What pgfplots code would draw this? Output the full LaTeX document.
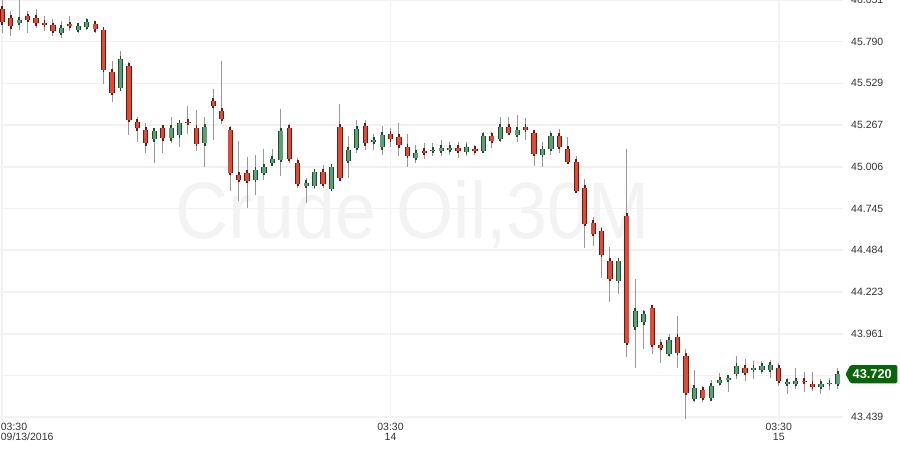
\documentclass[border=0pt]{standalone}
\usepackage{fontspec}
\setmainfont{Liberation Sans}
\usepackage{pgfplots}
\usepackage{pgfplotstable}
\pgfplotsset{compat=1.18}

\definecolor{wick}{HTML}{999999}
\definecolor{redfill}{HTML}{DD4B39}
\definecolor{redline}{HTML}{6B1A12}
\definecolor{greenfill}{HTML}{5E9F77}
\definecolor{greenline}{HTML}{1E4D2B}
\definecolor{gridc}{HTML}{F2F2F2}
\definecolor{wm}{HTML}{F3F3F3}
\definecolor{lab}{HTML}{333333}
\definecolor{tagc}{HTML}{0A640A}

% 30 min bars, x = bar number (46 bars per session)
\pgfplotstableread{
i open high low close
0 45.997 46.060 45.844 45.913
1 45.941 45.980 45.825 45.888
3 45.949 45.980 45.844 45.928
4 45.941 45.993 45.878 45.907
5 45.909 45.949 45.857 45.897
6 45.892 45.930 45.825 45.859
8 45.899 45.949 45.857 45.891
11 45.903 45.916 45.844 45.869
12 45.866 45.878 45.527 45.615
13 45.603 45.667 45.412 45.471
15 45.640 45.661 45.206 45.302
16 45.289 45.316 45.162 45.249
17 45.239 45.283 45.093 45.155
19 45.252 45.264 45.093 45.187
22 45.289 45.385 45.212 45.283
23 45.252 45.360 45.105 45.152
25 45.421 45.492 45.174 45.390
26 45.358 45.667 45.274 45.308
27 45.239 45.260 44.853 44.970
28 44.958 45.166 44.792 44.926
29 44.970 45.066 44.748 44.920
34 45.252 45.277 45.033 45.058
35 45.033 45.064 44.876 44.901
38 44.976 45.020 44.876 44.901
40 45.258 45.398 44.926 44.936
43 45.264 45.298 45.112 45.155
46 45.214 45.247 45.130 45.180
47 45.196 45.279 45.074 45.143
48 45.133 45.214 45.005 45.075
50 45.108 45.158 45.055 45.094
54 45.127 45.162 45.062 45.108
56 45.120 45.145 45.080 45.108
58 45.202 45.227 45.124 45.171
60 45.258 45.316 45.208 45.221
62 45.258 45.310 45.174 45.239
63 45.221 45.233 45.011 45.089
66 45.202 45.246 45.093 45.133
67 45.120 45.196 45.027 45.039
68 45.039 45.077 44.842 44.856
69 44.876 44.933 44.498 44.650
70 44.657 44.695 44.511 44.587
71 44.607 44.628 44.310 44.457
72 44.419 44.502 44.160 44.306
74 44.701 45.116 43.816 43.906
77 44.125 44.144 43.834 43.892
78 43.893 43.931 43.778 43.873
80 43.943 44.072 43.745 43.842
81 43.824 43.868 43.430 43.591
83 43.611 43.636 43.534 43.560
88 43.749 43.801 43.665 43.718
92 43.749 43.780 43.636 43.668
95 43.668 43.724 43.596 43.661
96 43.649 43.724 43.603 43.630
}\downbars

\pgfplotstableread{
i open high low close
2 45.909 46.055 45.861 45.928
7 45.847 45.918 45.813 45.878
9 45.866 45.909 45.844 45.891
10 45.884 45.941 45.863 45.916
14 45.500 45.730 45.487 45.684
18 45.180 45.247 45.030 45.233
20 45.187 45.316 45.155 45.252
21 45.206 45.298 45.130 45.283
24 45.155 45.316 45.005 45.258
30 44.926 45.078 44.830 44.989
31 44.970 45.116 44.926 45.008
32 45.030 45.116 45.011 45.058
33 45.052 45.367 44.949 45.233
36 44.889 44.939 44.780 44.908
37 44.889 44.995 44.870 44.976
39 44.870 45.020 44.864 45.008
41 45.045 45.197 44.939 45.114
42 45.127 45.298 45.093 45.246
44 45.164 45.214 45.112 45.177
45 45.130 45.264 45.080 45.208
49 45.063 45.145 45.030 45.095
51 45.108 45.158 45.074 45.114
52 45.108 45.177 45.074 45.127
53 45.114 45.164 45.080 45.127
55 45.100 45.164 45.074 45.133
57 45.108 45.227 45.094 45.202
59 45.183 45.316 45.160 45.258
61 45.208 45.329 45.162 45.239
64 45.083 45.160 45.005 45.120
65 45.120 45.233 45.083 45.202
73 44.294 44.432 44.210 44.419
75 44.003 44.302 43.747 44.106
76 44.035 44.112 43.866 44.087
79 43.837 43.962 43.816 43.924
82 43.554 43.737 43.534 43.624
84 43.559 43.670 43.548 43.636
85 43.655 43.718 43.634 43.674
86 43.674 43.699 43.596 43.687
87 43.712 43.820 43.679 43.762
89 43.737 43.789 43.678 43.749
90 43.737 43.789 43.712 43.762
91 43.737 43.795 43.687 43.768
93 43.649 43.687 43.586 43.661
94 43.649 43.749 43.618 43.668
97 43.630 43.680 43.586 43.649
98 43.649 43.687 43.609 43.653
99 43.649 43.749 43.618 43.712
}\upbars

\pgfplotsset{
  wicks/.style={draw=none, mark=none,
    error bars/y dir=plus, error bars/y explicit, error bars/error mark=none,
    error bars/error bar style={draw=wick, line width=1pt}},
  body edge/.style={draw=none, mark=none,
    error bars/y dir=both, error bars/y explicit, error bars/error mark=-,
    error bars/error mark options={draw=#1, line width=1.8pt, mark size=2.6pt},
    error bars/error bar style={draw=#1, line width=5.2pt}},
  body fill/.style={draw=none, mark=none,
    error bars/y dir=both, error bars/y explicit, error bars/error mark=none,
    error bars/error bar style={draw=#1, line width=3.4pt}},
}

\begin{document}
\begin{tikzpicture}
\node[anchor=base, text=wm, inner sep=0pt,
  font=\fontsize{80}{80}\selectfont] at (413pt,182pt)
  {\scalebox{0.92}[1]{Crude Oil,30M}};

\begin{axis}[
  at={(0pt,0pt)}, anchor=south west,
  scale only axis, width=843pt, height=420pt,
  xmin=-0.2725, xmax=99.61, ymin=43.421, ymax=46.051,
  axis line style={draw=none},
  tick style={draw=none},
  ytick={43.439,43.700,43.961,44.223,44.484,44.745,45.006,45.267,45.529,45.790,46.051},
  yticklabels={43.439,,43.961,44.223,44.484,44.745,45.006,45.267,45.529,45.790,46.051},
  yticklabel pos=right,
  yticklabel style={anchor=west, inner sep=0pt, xshift=8pt,
    font=\fontsize{10.5}{12}\selectfont, text=lab},
  xtick={46,92},
  xticklabels={{03:30\\14},{03:30\\15}},
  xticklabel style={anchor=north, align=center, inner sep=0pt, yshift=-2.7pt,
    font=\fontsize{10.5}{10.7}\selectfont, text=lab},
  extra x ticks={0},
  extra x tick labels={{03:30\\09/13/2016}},
  extra x tick style={grid=major,
    xticklabel style={anchor=north west, align=left, xshift=-1.6pt}},
  xmajorgrids, ymajorgrids,
  grid style={draw=gridc, line width=1.6pt},
]
% wicks
\addplot [wicks] table [x=i, y=low, y error expr=\thisrow{high}-\thisrow{low}] {\downbars};
\addplot [wicks] table [x=i, y=low, y error expr=\thisrow{high}-\thisrow{low}] {\upbars};
% bodies
\addplot [body edge=redline] table [x=i, y expr=(\thisrow{open}+\thisrow{close})/2,
  y error expr=abs(\thisrow{open}-\thisrow{close})/2] {\downbars};
\addplot [body fill=redfill] table [x=i, y expr=(\thisrow{open}+\thisrow{close})/2,
  y error expr=abs(\thisrow{open}-\thisrow{close})/2] {\downbars};
\addplot [body edge=greenline] table [x=i, y expr=(\thisrow{open}+\thisrow{close})/2,
  y error expr=abs(\thisrow{open}-\thisrow{close})/2] {\upbars};
\addplot [body fill=greenfill] table [x=i, y expr=(\thisrow{open}+\thisrow{close})/2,
  y error expr=abs(\thisrow{open}-\thisrow{close})/2] {\upbars};
\end{axis}

% last price tag
\fill[tagc, rounded corners=1.5pt] (845.5pt,45.9pt) -- (850.5pt,55pt) -- (897.3pt,55pt)
  -- (897.3pt,36.7pt) -- (850.5pt,36.7pt) -- cycle;
\node[text=white, font=\fontsize{12.8}{14}\selectfont\bfseries] at (872.2pt,45.9pt) {43.720};

\pgfresetboundingbox
\path[use as bounding box] (0pt,-28pt) rectangle (900pt,420pt);
\end{tikzpicture}
\end{document}
